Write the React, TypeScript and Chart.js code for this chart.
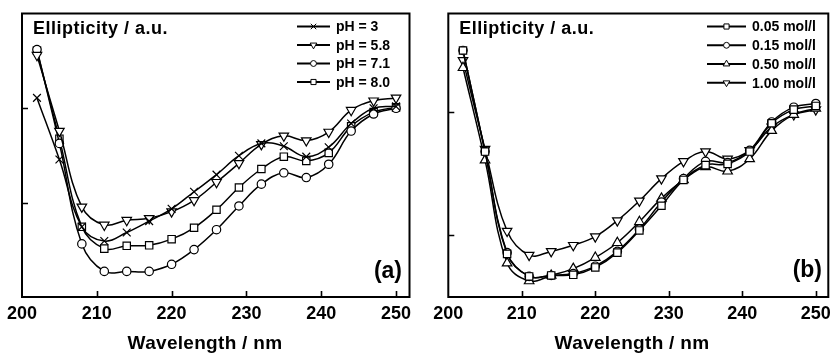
import React, { useEffect, useRef } from "react";
import { Chart, registerables } from "chart.js";
import * as helpers from "chart.js/helpers";

Chart.register(...registerables);

// ---------- data ----------
const wavelengths = [202, 205, 208, 211, 214, 217, 220, 223, 226, 229, 232, 235, 238, 241, 244, 247, 250];
const xTickValues = [200, 210, 220, 230, 240, 250];
const yTickValues = [1, 2];

const phLabels = ["pH = 3", "pH = 5.8", "pH = 7.1", "pH = 8.0"];
const pH3 = [2.11, 1.46, 0.75, 0.6, 0.69, 0.81, 0.94, 1.12, 1.3, 1.5, 1.63, 1.6, 1.49, 1.59, 1.84, 2.0, 2.02];
const pH58 = [2.56, 1.76, 0.96, 0.77, 0.82, 0.84, 0.91, 1.03, 1.22, 1.42, 1.62, 1.71, 1.66, 1.75, 1.98, 2.08, 2.11];
const pH71 = [2.62, 1.63, 0.57, 0.28, 0.28, 0.28, 0.355, 0.51, 0.72, 0.97, 1.2, 1.32, 1.27, 1.41, 1.76, 1.94, 2.0];
const pH80 = [2.61, 1.68, 0.75, 0.52, 0.55, 0.555, 0.62, 0.74, 0.93, 1.165, 1.36, 1.49, 1.445, 1.53, 1.81, 1.96, 2.01];

const concLabels = ["0.05 mol/l", "0.15 mol/l", "0.50 mol/l", "1.00 mol/l"];
const c005 = [2.5, 1.68, 0.85, 0.667, 0.675, 0.68, 0.74, 0.86, 1.04, 1.24, 1.45, 1.57, 1.58, 1.68, 1.91, 2.02, 2.05];
const c015 = [2.5, 1.68, 0.86, 0.667, 0.675, 0.69, 0.75, 0.87, 1.05, 1.27, 1.46, 1.6, 1.59, 1.69, 1.92, 2.04, 2.07];
const c050 = [2.36, 1.61, 0.775, 0.63, 0.675, 0.73, 0.82, 0.94, 1.11, 1.3, 1.45, 1.555, 1.52, 1.62, 1.85, 1.98, 2.03];
const c100 = [2.42, 1.7, 1.035, 0.84, 0.87, 0.92, 0.99, 1.12, 1.28, 1.46, 1.6, 1.68, 1.62, 1.69, 1.88, 1.98, 2.02];

const yTitle = "Ellipticity / a.u.";
const xTitle = "Wavelength / nm";

// ---------- styles ----------
const FONT = '"Liberation Sans", Arial, Helvetica, sans-serif';
const H = 354;

type Marker = { style: string; rotation: number; radius: number };
const cross: Marker = { style: "crossRot", rotation: 0, radius: 5.5 };
const triDown: Marker = { style: "triangle", rotation: 180, radius: 5.5 };
const triUp: Marker = { style: "triangle", rotation: 0, radius: 5.5 };
const circ: Marker = { style: "circle", rotation: 0, radius: 4.2 };
const sq: Marker = { style: "rect", rotation: 0, radius: 5.2 };

type PanelCfg = {
  canvasLeft: number;
  canvasWidth: number;
  padLeft: number;
  padRight: number;
  yMin: number;
  yMax: number;
  xMax: number;
  series: { label: string; data: number[]; marker: Marker }[];
  legend: { lineX0: number; lineX1: number; textX: number; rows: number[] };
  tag: string;
  tagRight: number;
  tagBaseline: number;
  titleX: number;
};

function decorPlugin(cfg: PanelCfg) {
  return {
    id: "decor",
    afterDraw(chart: any) {
      const { ctx, chartArea: a, scales } = chart;
      const xs = scales.x;
      const ys = scales.y;
      ctx.save();
      ctx.strokeStyle = "#000";
      ctx.lineWidth = 2;
      ctx.strokeRect(a.left, a.top, a.right - a.left, a.bottom - a.top);
      ctx.lineWidth = 1.6;
      ctx.beginPath();
      for (const v of xTickValues.slice(1)) {
        const px = Math.round(xs.getPixelForValue(v)) + 0.5;
        ctx.moveTo(px, a.bottom);
        ctx.lineTo(px, a.bottom - 6);
      }
      for (const v of yTickValues) {
        const py = Math.round(ys.getPixelForValue(v)) + 0.5;
        ctx.moveTo(a.left, py);
        ctx.lineTo(a.left + 6, py);
      }
      ctx.stroke();

      ctx.fillStyle = "#000";
      (ctx as any).letterSpacing = "0.5px";
      ctx.font = `bold 18px ${FONT}`;
      ctx.textAlign = "left";
      ctx.textBaseline = "alphabetic";
      ctx.fillText(yTitle, a.left + 11, 34);

      (ctx as any).letterSpacing = "0.3px";
      ctx.font = `bold 19px ${FONT}`;
      ctx.textAlign = "center";
      ctx.fillText(xTitle, cfg.titleX, 349);

      (ctx as any).letterSpacing = "0px";
      ctx.font = `bold 23px ${FONT}`;
      ctx.textAlign = "right";
      ctx.fillText(cfg.tag, cfg.tagRight, cfg.tagBaseline);

      // legend
      const lg = cfg.legend;
      ctx.font = `bold 14px ${FONT}`;
      ctx.textAlign = "left";
      ctx.textBaseline = "middle";
      cfg.series.forEach((s, i) => {
        const y = lg.rows[i];
        ctx.strokeStyle = "#000";
        ctx.lineWidth = 2;
        ctx.beginPath();
        ctx.moveTo(lg.lineX0, y);
        ctx.lineTo(lg.lineX1, y);
        ctx.stroke();
        ctx.fillStyle = "#fff";
        ctx.lineWidth = 1;
        helpers.drawPoint(
          ctx,
          { pointStyle: s.marker.style, rotation: s.marker.rotation, radius: s.marker.radius * 0.7, borderWidth: 1 } as any,
          (lg.lineX0 + lg.lineX1) / 2,
          y
        );
        ctx.fillStyle = "#000";
        ctx.fillText(s.label, lg.textX, y + 1);
      });
      ctx.restore();
    },
  };
}

function Panel({ cfg }: { cfg: PanelCfg }) {
  const ref = useRef<HTMLCanvasElement>(null);
  useEffect(() => {
    const chart = new Chart(ref.current as HTMLCanvasElement, {
      type: "line",
      data: {
        datasets: cfg.series.map((s) => ({
          label: s.label,
          data: wavelengths.map((w, i) => ({ x: w, y: s.data[i] })),
          borderColor: "#000",
          borderWidth: 1.5,
          backgroundColor: "#fff",
          pointStyle: s.marker.style as any,
          pointRotation: s.marker.rotation,
          pointRadius: s.marker.radius,
          pointBorderWidth: 1.2,
          pointBorderColor: "#000",
          pointBackgroundColor: "#fff",
          cubicInterpolationMode: "default" as const,
          tension: 0.4,
          fill: false,
        })),
      },
      options: {
        responsive: false,
        animation: false,
        devicePixelRatio: 1,
        layout: { padding: { left: cfg.padLeft, right: cfg.padRight, top: 13.5, bottom: 0 } },
        plugins: { legend: { display: false }, tooltip: { enabled: false } },
        scales: {
          x: {
            type: "linear",
            min: 200,
            max: cfg.xMax,
            grid: { display: false, drawTicks: false },
            border: { display: false },
            afterBuildTicks: (s: any) => {
              s.ticks = xTickValues.map((v) => ({ value: v }));
            },
            afterFit: (s: any) => {
              s.height = H - 297;
              s.paddingLeft = 0;
              s.paddingRight = 0;
            },
            ticks: {
              color: "#000",
              padding: 6,
              autoSkip: false,
              maxRotation: 0,
              font: { family: FONT, size: 18, weight: "bold" },
              callback: (v: any) => String(v),
            },
          },
          y: {
            type: "linear",
            display: false,
            min: cfg.yMin,
            max: cfg.yMax,
          },
        },
      },
      plugins: [decorPlugin(cfg)],
    } as any);
    return () => chart.destroy();
  }, []);
  return (
    <canvas
      ref={ref}
      width={cfg.canvasWidth}
      height={H}
      style={{ position: "absolute", left: cfg.canvasLeft, top: 0, width: cfg.canvasWidth, height: H }}
    />
  );
}

const leftCfg: PanelCfg = {
  canvasLeft: 0,
  canvasWidth: 428,
  padLeft: 22,
  padRight: 18.5,
  yMin: 0.01,
  yMax: 3.0,
  xMax: 251.8,
  series: [
    { label: phLabels[0], data: pH3, marker: cross },
    { label: phLabels[1], data: pH58, marker: triDown },
    { label: phLabels[2], data: pH71, marker: circ },
    { label: phLabels[3], data: pH80, marker: sq },
  ],
  legend: { lineX0: 297, lineX1: 330, textX: 336, rows: [26.5, 45, 63.5, 82] },
  tag: "(a)",
  tagRight: 402,
  tagBaseline: 278,
  titleX: 205,
};

const rightCfg: PanelCfg = {
  canvasLeft: 428,
  canvasWidth: 407,
  padLeft: 20.3,
  padRight: 1.7,
  yMin: 0.5,
  yMax: 2.8,
  xMax: 251.7,
  series: [
    { label: concLabels[0], data: c005, marker: sq },
    { label: concLabels[1], data: c015, marker: circ },
    { label: concLabels[2], data: c050, marker: triUp },
    { label: concLabels[3], data: c100, marker: triDown },
  ],
  legend: { lineX0: 279, lineX1: 318, textX: 324, rows: [26.5, 45.3, 64, 82.8] },
  tag: "(b)",
  tagRight: 394,
  tagBaseline: 277,
  titleX: 204,
};

export default function App() {
  return (
    <div style={{ position: "fixed", left: 0, top: 0, width: 835, height: H, background: "#fff" }}>
      <Panel cfg={leftCfg} />
      <Panel cfg={rightCfg} />
    </div>
  );
}
